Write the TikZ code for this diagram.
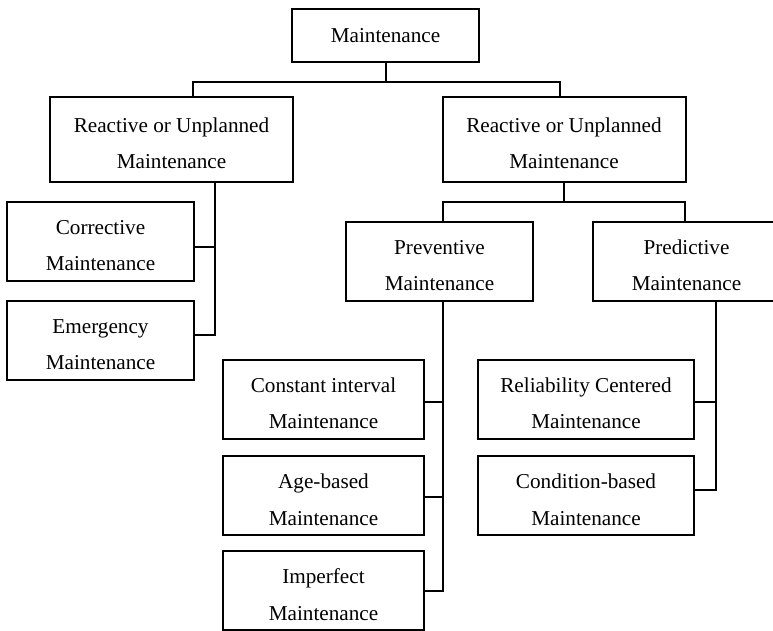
\documentclass[tikz,border=0pt]{standalone}
\usepackage{fontspec}
\setmainfont{Liberation Serif}
\usetikzlibrary{positioning}

\begin{document}
\begin{tikzpicture}[
  x=0.5pt, y=-0.5pt,
  every node/.style={font=\fontsize{10.6}{18.3}\selectfont},
  head/.style={rectangle, draw, line width=1pt, outer sep=0pt,
    minimum width=93.5pt, minimum height=26.5pt},
  kind/.style={head, align=center, minimum height=39.5pt,
    execute at begin node={\rule{0pt}{29.3pt}}},
  link/.style={line width=1pt}
]
  \useasboundingbox (0,0) rectangle (773,631);

  \node[head] (maint) at (385.5,35.5) {Maintenance};
  \node[kind, minimum width=121.5pt, minimum height=42.5pt, below=17.5pt of maint, xshift=-107pt] (reactL) {Reactive or Unplanned\\Maintenance};
  \node[kind, minimum width=121.5pt, minimum height=42.5pt, below=17.5pt of maint, xshift=89.25pt] (reactR) {Reactive or Unplanned\\Maintenance};

  \node[kind, below=10pt of reactL, xshift=-35.5pt] (corr) {Corrective\\Maintenance};
  \node[kind, below=10pt of corr] (emerg) {Emergency\\Maintenance};

  \node[kind, below=20pt of reactR, xshift=-62.25pt] (prev) {Preventive\\Maintenance};
  \node[kind, below=20pt of reactR, xshift=61.25pt] (pred) {Predictive\\Maintenance};

  \node[kind, minimum width=100.5pt, below=29.5pt of prev, xshift=-58pt] (const) {Constant interval\\Maintenance};
  \node[kind, minimum width=100.5pt, below=8.7pt of const] (age) {Age-based\\Maintenance};
  \node[kind, minimum width=100.5pt, below=8pt of age] (imperf) {Imperfect\\Maintenance};

  \node[kind, minimum width=108pt, below=29.5pt of pred, xshift=-50.25pt] (rcm) {Reliability Centered\\Maintenance};
  \node[kind, minimum width=108pt, below=8.7pt of rcm] (cbm) {Condition-based\\Maintenance};

  % top level
  \draw[link] (maint.south) -- ++(0,20) coordinate (j0);
  \draw[link] ([xshift=10.75pt]reactL.north) |- (j0) -| ([xshift=-2pt]reactR.north);

  % reactive branch
  \draw[link] ([xshift=21.6pt]reactL.south) |- ([yshift=2.75pt]emerg.east);
  \draw[link] ([yshift=-3pt]corr.east) -| ([xshift=21.6pt]reactL.south);

  % planned branch
  \draw[link] (reactR.south) -- ++(0,20) coordinate (j1);
  \draw[link] ([xshift=1.6pt]prev.north) |- (j1) -| ([xshift=-0.9pt]pred.north);

  \draw[link] ([xshift=1.6pt]prev.south) |- (imperf.east);
  \draw[link] ([yshift=-1.4pt]const.east) -| ([xshift=1.6pt]prev.south);
  \draw[link] ([yshift=-0.6pt]age.east) -| ([xshift=1.6pt]prev.south);

  \draw[link] ([xshift=14.6pt]pred.south) |- ([yshift=3.15pt]cbm.east);
  \draw[link] ([yshift=-1.4pt]rcm.east) -| ([xshift=14.6pt]pred.south);
\end{tikzpicture}
\end{document}
